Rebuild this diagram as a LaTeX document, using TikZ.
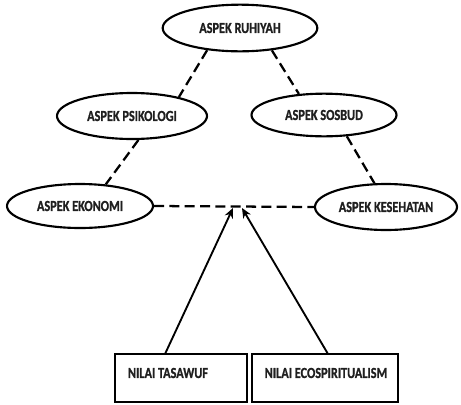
\documentclass[tikz,border=0pt]{standalone}
\usepackage{fontspec}
\setmainfont{Carlito}[BoldFont={Carlito Bold}]
\newfontfamily\lblfont{Carlito Bold}[FakeBold=1.2]
\usetikzlibrary{shapes.geometric,arrows.meta}
\begin{document}
\begin{tikzpicture}[x=0.75pt,y=-0.75pt,
  lbl/.style={font=\lblfont\fontsize{11.5}{13}\selectfont, text=black!88, inner sep=0pt},
  ell/.style={ellipse, draw, line width=1.6pt, inner sep=0pt},
  conn/.style={line width=1.7pt, dash pattern=on 7.5pt off 4pt},
  boxst/.style={rectangle, draw, line width=1.4pt, inner sep=0pt, minimum height=36pt},
  arr/.style={line width=1.4pt, -{Stealth[length=7.5pt,width=6.5pt]}}
]
\useasboundingbox (0,0) rectangle (461,404);

\node[ell, minimum width=116pt, minimum height=35pt] (ruh) at (240,28) {};
\node[ell, minimum width=112.5pt, minimum height=34.5pt] (psi) at (132,116) {};
\node[ell, minimum width=108.75pt, minimum height=32pt] (sos) at (324,115) {};
\node[ell, minimum width=109.5pt, minimum height=33pt] (eko) at (80,206) {};
\node[ell, minimum width=106.5pt, minimum height=34.5pt] (kes) at (386,207) {};

\node[lbl] (ruht) at (ruh) {\scalebox{0.8}[1]{ASPEK RUHIYAH}};
\node[lbl] (psit) at (psi) {\scalebox{0.8}[1]{ASPEK PSIKOLOGI}};
\node[lbl] (sost) at (sos) {\scalebox{0.8}[1]{ASPEK SOSBUD}};
\node[lbl] (ekot) at (eko) {\scalebox{0.8}[1]{ASPEK EKONOMI}};
\node[lbl] (kest) at (kes) {\scalebox{0.8}[1]{ASPEK KESEHATAN}};

\node[boxst, minimum width=99pt] (tas) at (181,378) {};
\node[boxst, minimum width=109.5pt] (eco) at (325,378) {};
\node[lbl] (tast) at (168,373) {\scalebox{0.8}[1]{NILAI TASAWUF}};
\node[lbl] (ecot) at (326,373) {\scalebox{0.8}[1]{NILAI ECOSPIRITUALISM}};

\draw[conn] (ruh.214) -- (psi.22);
\draw[conn] (ruh.325) -- (sos.140);
\draw[conn] (psi.285) -- (eko.40);
\draw[conn] (sos.317) -- (kes.116);
\draw[conn] (eko.east) -- (kes.west);

\coordinate (s1) at (165,354);
\coordinate (s2) at (328,354);
\coordinate (m1) at (233,208);
\coordinate (m2) at (242,208);
\draw[arr] (s1) -- (m1);
\draw[arr] (s2) -- (m2);
\end{tikzpicture}
\end{document}
